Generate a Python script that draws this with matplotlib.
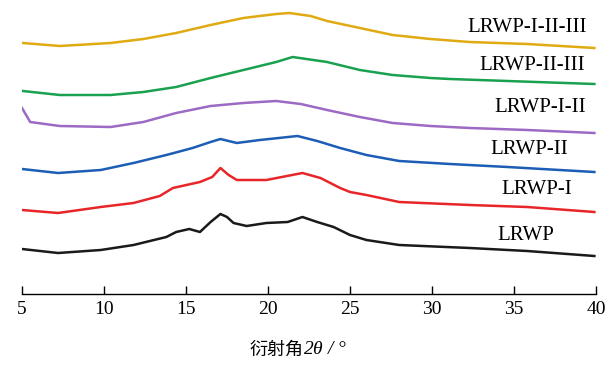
import matplotlib
matplotlib.use('Agg')
import matplotlib.pyplot as plt

plt.rcParams['font.family'] = ['Liberation Serif', 'Noto Sans CJK SC']
plt.rcParams['mathtext.fontset'] = 'custom'
plt.rcParams['mathtext.it'] = 'Liberation Serif:italic'
plt.rcParams['mathtext.rm'] = 'Liberation Serif'

# 2theta positions and read-off intensities (arbitrary units, offset stacked)
x_lrwp = [5.0, 7.2, 9.8, 11.8, 13.8, 14.4, 15.2, 15.85, 16.5, 17.1, 17.5, 17.9, 18.7,
          19.9, 21.2, 22.1, 23.0, 24.0, 25.0, 26.0, 28.0, 32.3, 35.8, 39.9]
y_lrwp = [51, 47, 50, 55, 63, 68, 71, 68, 78, 86, 83, 77, 74,
          77, 78, 83, 78, 73, 65, 60, 55, 52, 49, 44]

x_i = [5.0, 7.2, 9.8, 11.8, 13.4, 14.2, 15.85, 16.6, 17.1, 17.6, 18.1, 19.9, 22.1,
       23.2, 24.4, 25.0, 26.0, 28.0, 32.3, 35.8, 39.9]
y_i = [90, 87, 93, 97, 104, 112, 118, 123, 132, 125, 120, 120, 127,
       122, 112, 108, 105, 98, 95, 93, 88]

x_ii = [5.0, 7.2, 9.8, 11.8, 13.8, 15.4, 16.5, 17.1, 18.1, 19.5, 21.8, 23.0, 24.4,
        26.0, 28.0, 31.1, 34.6, 39.9]
y_ii = [131, 127, 130, 137, 145, 152, 158, 161, 157, 160, 164, 159, 152,
        145, 139, 136, 133, 128]

x_i_ii = [5.0, 5.5, 7.3, 10.4, 12.4, 14.4, 16.5, 18.5, 20.5, 22.0, 23.6, 25.6,
          27.6, 29.9, 32.3, 35.8, 39.9]
y_i_ii = [192, 178, 174, 173, 178, 187, 194, 197, 199, 196, 190, 183,
          177, 174, 172, 170, 167]

x_ii_iii = [5.05, 7.3, 10.4, 12.4, 14.4, 16.5, 18.5, 20.5, 21.5, 23.6, 25.6, 27.6,
            29.9, 31.1, 34.6, 39.9]
y_ii_iii = [209, 205, 205, 208, 213, 222, 230, 238, 243, 238, 230, 225,
            222, 221, 219, 216]

x_i_ii_iii = [5.05, 7.3, 10.4, 12.4, 14.4, 16.5, 18.5, 20.5, 21.3, 22.6, 23.6, 25.6,
              27.6, 29.9, 32.3, 35.8, 39.9]
y_i_ii_iii = [257, 254, 257, 261, 267, 275, 282, 286, 287, 284, 279, 272,
              265, 261, 258, 256, 252]

names = ['LRWP', 'LRWP-I', 'LRWP-II', 'LRWP-I-II', 'LRWP-II-III', 'LRWP-I-II-III']
colors = ['#1a1a1a', '#e8262a', '#1c5db5', '#9c6ac4', '#1aa150', '#e0aa12']
label_x = [35.7, 36.4, 35.9, 36.6, 36.1, 35.8]
label_y = [64, 111, 150, 193, 235, 273]

xs = [x_lrwp, x_i, x_ii, x_i_ii, x_ii_iii, x_i_ii_iii]
ys = [y_lrwp, y_i, y_ii, y_i_ii, y_ii_iii, y_i_ii_iii]

fig = plt.figure(figsize=(6.11, 3.65), dpi=100)
ax = fig.add_axes([22/611, 71/365, 574/611, 294/365])

for x, y, c, n, lx, ly in zip(xs, ys, colors, names, label_x, label_y):
    ax.plot(x, y, color=c, lw=1.8, solid_joinstyle='round')
    ax.text(lx, ly, n, ha='center', va='center', fontsize=15)

ax.set_xlim(5, 40)
ax.set_ylim(6, 300)
ax.set_xticks(range(5, 41, 5))
ax.tick_params(axis='x', direction='in', length=6, width=1, labelsize=14, pad=5)
for s in ['left', 'right', 'top']:
    ax.spines[s].set_visible(False)
ax.spines['bottom'].set_linewidth(1)
ax.set_yticks([])

# x label: Chinese part and the italic theta part as separate texts
fig.text(303/611, 15/365, '衍射角', family='Noto Sans CJK SC', fontsize=13,
         ha='right', va='center')
fig.text(303/611, 15/365, '2$\\mathit{\\theta}$ / °', fontsize=14,
         ha='left', va='center', style='italic')

fig.savefig('out.png', dpi=100)
